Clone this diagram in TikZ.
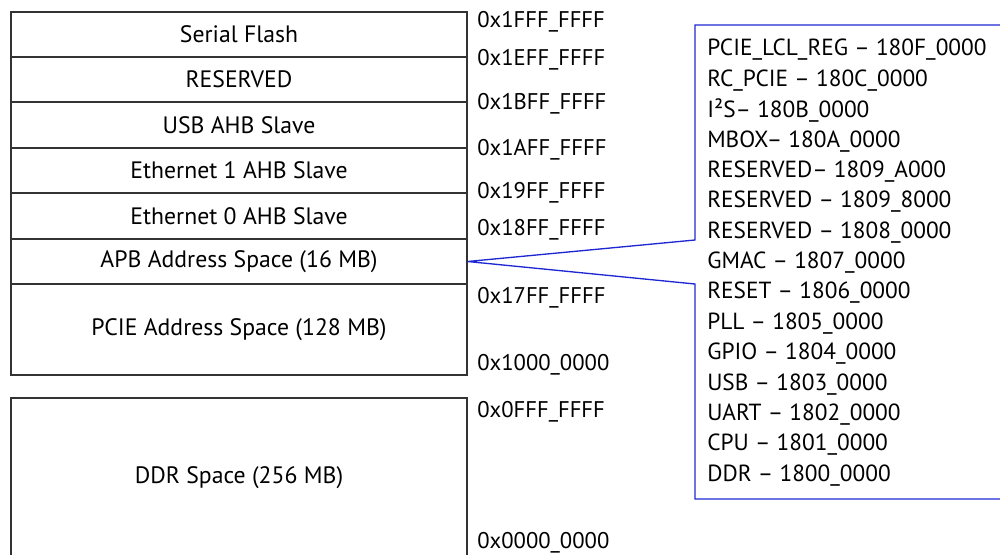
\documentclass[tikz,border=0pt]{standalone}
\usepackage{fontspec}
\setmainfont{PT Sans}
\begin{document}
\begin{tikzpicture}[x=0.75pt,y=-0.75pt,
  rowbox/.style={draw=black!80,line width=0.9pt,minimum width=342pt,inner sep=0pt,font=\fontsize{17.8}{20}\selectfont},
  addr/.style={anchor=west,inner sep=0pt,font=\fontsize{17}{20}\selectfont},
  item/.style={anchor=west,inner sep=0pt,font=\fontsize{17.5}{20}\selectfont},
  blueline/.style={draw={rgb,255:red,30;green,40;blue,210},line width=1pt}]
\useasboundingbox (0,0) rectangle (1000,554);
\node[rowbox,minimum height=33.75pt] (sf) at (239,34.5) {Serial Flash};
\node[rowbox,minimum height=33.75pt] (res) at (239,79.5) {RESERVED};
\node[rowbox,minimum height=34.5pt] (usb) at (239,125) {USB AHB Slave};
\node[rowbox,minimum height=33.75pt] (eth1) at (239,170.5) {Ethernet 1 AHB Slave};
\node[rowbox,minimum height=34.5pt] (eth0) at (239,216) {Ethernet 0 AHB Slave};
\node[rowbox,minimum height=33.75pt] (apb) at (239,261.5) {APB Address Space (16 MB)};
\node[rowbox,minimum height=68.25pt] (pcie) at (239,329.5) {PCIE Address Space (128 MB)};
\draw[draw=black!80,line width=0.9pt] (11,570) -- (11,398) -- (467,398) -- (467,570);
\node[inner sep=0pt,font=\fontsize{17.8}{20}\selectfont] (ddr) at (239,478) {DDR Space (256 MB)};
\node[addr] (a1) at (477,22) {0x1FFF\_FFFF};
\node[addr] (a2) at (477,60) {0x1EFF\_FFFF};
\node[addr] (a3) at (477,104) {0x1BFF\_FFFF};
\node[addr] (a4) at (477,150) {0x1AFF\_FFFF};
\node[addr] (a5) at (477,193) {0x19FF\_FFFF};
\node[addr] (a6) at (477,230) {0x18FF\_FFFF};
\node[addr] (a7) at (477,298) {0x17FF\_FFFF};
\node[addr] (a8) at (477,365) {0x1000\_0000};
\node[addr] (a9) at (477,412) {0x0FFF\_FFFF};
\node[addr] (a10) at (477,543) {0x0000\_0000};
\coordinate (bt) at (1005,25);
\coordinate (btl) at (695,25);
\coordinate (bj1) at (695,240);
\coordinate (bj2) at (695,284);
\coordinate (bbl) at (695,499);
\coordinate (bb) at (1005,499);
\draw[blueline] (bt) -- (btl) -- (bj1) -- (apb.east) -- (bj2) -- (bbl) -- (bb);
\foreach \t [count=\i] in {PCIE\_LCL\_REG – 180F\_0000, RC\_PCIE – 180C\_0000, I²S– 180B\_0000, MBOX– 180A\_0000, RESERVED– 1809\_A000, RESERVED – 1809\_8000, RESERVED – 1808\_0000, GMAC – 1807\_0000, RESET – 1806\_0000, PLL – 1805\_0000, GPIO – 1804\_0000, USB – 1803\_0000, UART – 1802\_0000, CPU – 1801\_0000, DDR – 1800\_0000}
  \node[item] (it\i) at (707,{50+(\i-1)*30.38}) {\t};
\end{tikzpicture}
\end{document}
